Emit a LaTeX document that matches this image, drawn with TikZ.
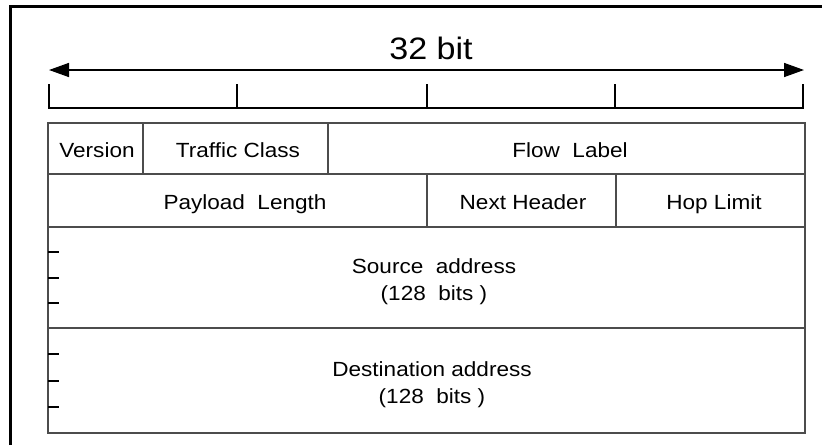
\documentclass[tikz,border=0pt]{standalone}
\usepackage{fontspec}
\setmainfont{Liberation Sans}[FakeStretch=1.1]
\usetikzlibrary{arrows.meta}
\begin{document}
\begin{tikzpicture}[x=1pt, y=-1pt,
  field/.style={font=\fontsize{20.5}{24}\selectfont, inner sep=0pt, anchor=base},
  grid/.style={line width=1.2pt, draw=black!70},
  scale line/.style={line width=2pt}]
  \useasboundingbox (0,0) rectangle (822,445);
  % page frame
  \draw[line width=3pt] (10,445) -- (10,6) -- (822,6);
  % word width and bit scale
  \node[font=\fontsize{31}{36}\selectfont, inner sep=0pt, anchor=base] (wordwidth) at (431,59) {32 bit};
  \coordinate (arrL) at (49,70); \coordinate (arrR) at (804,70);
  \draw[line width=1.5pt, {Triangle[length=20pt,width=14pt]}-{Triangle[length=20pt,width=14pt]}] (arrL) -- (arrR);
  \draw[scale line] (49,84) -- (49,108) -- (803,108) -- (803,84);
  \foreach \x in {237,427,615}
    \draw[scale line] (\x,84) -- (\x,108);
  % header rows
  \draw[grid] (48,123) rectangle (805,433);
  \foreach \y in {174,227,328}
    \draw[grid] (48,\y) -- (805,\y);
  \draw[grid] (143,123) -- (143,174);
  \draw[grid] (328,123) -- (328,174);
  \draw[grid] (427,174) -- (427,227);
  \draw[grid] (616,174) -- (616,227);
  % word marks inside the address rows
  \foreach \y in {252,278,303,354,381,407}
    \draw[line width=1.5pt] (48,\y) -- (59,\y);
  % field names
  \node[field] (version) at (97,157) {Version};
  \node[field] (traffic) at (238,157) {Traffic Class};
  \node[field] (flow) at (570,157) {Flow\ \ Label};
  \node[field] (payload) at (245,209.5) {Payload\ \ Length};
  \node[field] (next) at (523,209.5) {Next Header};
  \node[field] (hop) at (714,209.5) {Hop Limit};
  \node[field] (source) at (434,273) {Source\ \ address};
  \node[field] (sourcebits) at (434,300) {(128\ \ bits )};
  \node[field] (dest) at (432,376) {Destination address};
  \node[field] (destbits) at (432,403) {(128\ \ bits )};
\end{tikzpicture}
\end{document}
